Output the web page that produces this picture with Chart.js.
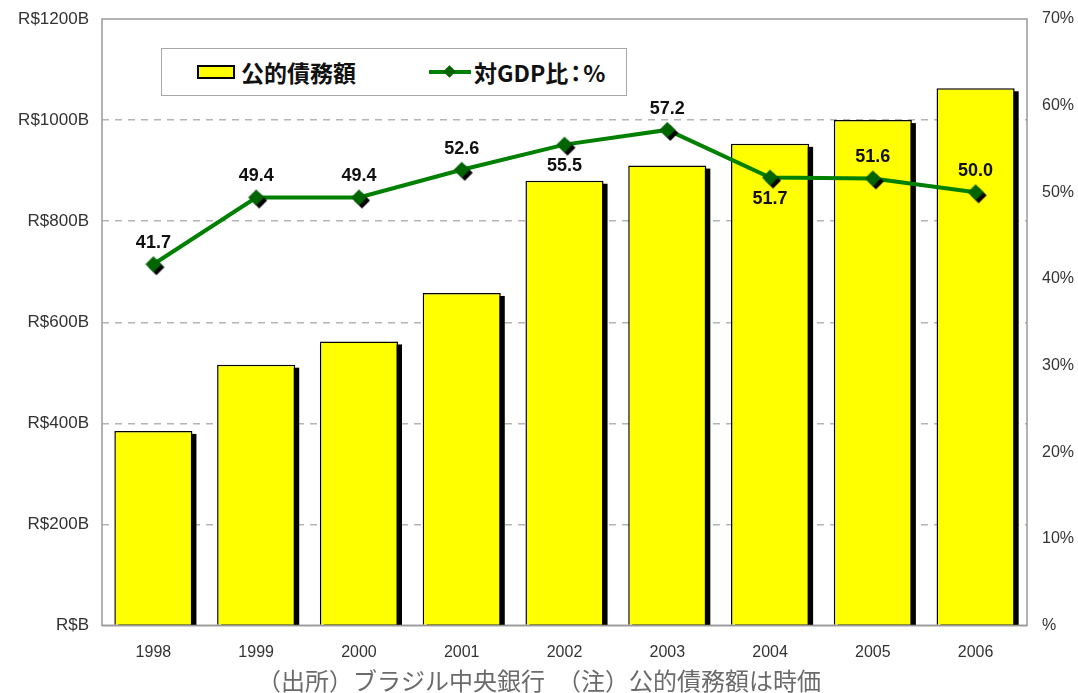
<!DOCTYPE html>
<html>
<head>
<meta charset="utf-8">
<script src="https://cdn.jsdelivr.net/npm/chart.js@4.4.1/dist/chart.umd.min.js"></script>
<style>
  html, body { margin: 0; padding: 0; background: #fff; }
  #wrap { position: relative; width: 1078px; height: 693px; }
  #legend {
    position: absolute; left: 161px; top: 48px; width: 466px; height: 48px;
    border: 1px solid #a8a8a8; background: #fff; box-sizing: border-box;
    font-family: "Noto Sans CJK JP", sans-serif; font-weight: bold; font-size: 23px; color: #111;
  }
  .li { position: absolute; top: 0; height: 100%; display: flex; align-items: center; }
  .sw-bar { width: 38px; height: 14px; background: #ffff00; border: 2px solid #000; box-sizing: border-box; margin-right: 6px; }
  .sw-line { position: relative; width: 42px; height: 14px; margin-right: 3px; }
  .sw-line .ln { position: absolute; left: 0; right: 0; top: 5px; height: 4px; background: #008000; }
  .sw-line .dm { position: absolute; left: 16px; top: 2px; width: 9px; height: 9px; background: #006400; transform: rotate(45deg); }
  .nc { margin: 0 -4px; }
</style>
</head>
<body>
<div id="wrap">
  <canvas id="c" width="1078" height="693"></canvas>
  <div id="legend">
    <div class="li" style="left:35px"><div class="sw-bar"></div><span>公的債務額</span></div>
    <div class="li" style="left:267px"><div class="sw-line"><div class="ln"></div><div class="dm"></div></div><span>対GDP比<span class="nc">：</span>%</span></div>
  </div>
</div>
<script>
const years = ["1998", "1999", "2000", "2001", "2002", "2003", "2004", "2005", "2006"];
const debtBillions = [385, 516, 562, 658, 880, 910, 953, 1000, 1063];
const gdpRatio = [41.7, 49.4, 49.4, 52.6, 55.5, 57.2, 51.7, 51.6, 50.0];
const labelBelow = [false, false, false, false, true, false, true, false, false];
const footerText = "（出所）ブラジル中央銀行　（注）公的債務額は時価";

// diamond marker with drop shadow
function diamondImage() {
  const s = 28, c = document.createElement('canvas');
  c.width = s; c.height = s;
  const g = c.getContext('2d');
  const r = 8, cx = s / 2, cy = s / 2;
  function dia(x, y, col) {
    g.beginPath(); g.moveTo(x, y - r); g.lineTo(x + r, y); g.lineTo(x, y + r); g.lineTo(x - r, y); g.closePath();
    g.fillStyle = col; g.fill();
  }
  dia(cx + 3, cy + 3, '#000');
  dia(cx, cy, '#006400');
  return c;
}

// drop shadows behind bars, positioned from the bar elements
const barShadow = {
  id: 'barShadow',
  beforeDatasetDraw(chart, args) {
    if (args.index !== 0) return;
    const { ctx, chartArea: a } = chart;
    ctx.save();
    ctx.beginPath();
    ctx.rect(a.left, a.top, a.right - a.left, a.bottom - a.top);
    ctx.clip();
    ctx.fillStyle = '#000';
    args.meta.data.forEach(bar => {
      const p = bar.getProps(['x', 'y', 'base', 'width'], true);
      ctx.fillRect(p.x - p.width / 2 + 4, p.y + 3, p.width, p.base - p.y);
    });
    ctx.restore();
  }
};

const frameAndLabels = {
  id: 'frameAndLabels',
  beforeDatasetsDraw(chart) {
    const { ctx, chartArea: a } = chart;
    ctx.save();
    ctx.strokeStyle = '#999';
    ctx.lineWidth = 1.5;
    ctx.strokeRect(a.left, a.top, a.right - a.left, a.bottom - a.top);
    ctx.restore();
  },
  afterDatasetsDraw(chart) {
    const { ctx, chartArea: a } = chart;
    ctx.save();
    ctx.strokeStyle = '#999';
    ctx.lineWidth = 1.5;
    ctx.beginPath(); ctx.moveTo(a.left, a.bottom); ctx.lineTo(a.right, a.bottom); ctx.stroke();
    const meta = chart.getDatasetMeta(1);
    ctx.font = 'bold 18px "Liberation Sans", Arial, sans-serif';
    ctx.fillStyle = '#111';
    ctx.textAlign = 'center';
    ctx.textBaseline = 'middle';
    meta.data.forEach((pt, i) => {
      const dy = labelBelow[i] ? 21 : -21;
      ctx.fillText(gdpRatio[i].toFixed(1), pt.x, pt.y + dy);
    });
    ctx.restore();
  }
};

function noPad(s) { s.paddingTop = 0; s.paddingBottom = 0; s.paddingLeft = 0; s.paddingRight = 0; }

new Chart(document.getElementById('c'), {
  data: {
    labels: years,
    datasets: [
      {
        type: 'bar',
        label: '公的債務額',
        data: debtBillions,
        yAxisID: 'y',
        backgroundColor: '#ffff00',
        borderColor: '#000',
        borderWidth: 1.5,
        barPercentage: 0.76,
        categoryPercentage: 1.0,
        clip: 0,
        order: 2
      },
      {
        type: 'line',
        label: '対GDP比：%',
        data: gdpRatio,
        yAxisID: 'y2',
        borderColor: '#008000',
        borderWidth: 4,
        tension: 0,
        pointStyle: diamondImage(),
        pointRadius: 8,
        fill: false,
        order: 1
      }
    ]
  },
  options: {
    responsive: false,
    animation: false,
    events: [],
    layout: { padding: { top: 19, left: 0, right: 0, bottom: 0 } },
    plugins: {
      legend: { display: false },
      tooltip: { enabled: false },
      title: {
        display: true,
        position: 'bottom',
        text: footerText,
        color: '#6a6a6a',
        font: { family: '"Noto Sans CJK JP", sans-serif', size: 24, weight: 'normal', lineHeight: 1.0 },
        padding: { top: 8, bottom: 0 }
      }
    },
    scales: {
      x: {
        grid: { display: false, drawTicks: false },
        border: { display: false },
        ticks: { color: '#333', font: { family: '"Liberation Sans", Arial, sans-serif', size: 16 }, padding: 17 },
        afterFit(s) { s.height = 35.5; noPad(s); }
      },
      y: {
        position: 'left',
        min: 0, max: 1200,
        ticks: {
          stepSize: 200,
          color: '#333',
          padding: 13,
          font: { family: '"Liberation Sans", Arial, sans-serif', size: 17 },
          callback: v => v === 0 ? 'R$B' : 'R$' + v + 'B'
        },
        grid: {
          drawTicks: false,
          color: ctx => (ctx.tick && (ctx.tick.value === 0 || ctx.tick.value === 1200)) ? 'rgba(0,0,0,0)' : '#b4b4b4',
          lineWidth: 1.5
        },
        border: { display: false, dash: [7, 6] },
        afterFit(s) { s.width = 102; noPad(s); }
      },
      y2: {
        position: 'right',
        min: 0, max: 70,
        ticks: {
          stepSize: 10,
          color: '#333',
          padding: 15,
          font: { family: '"Liberation Sans", Arial, sans-serif', size: 16 },
          callback: v => v === 0 ? '%' : v + '%'
        },
        grid: { drawOnChartArea: false, drawTicks: false },
        border: { display: false },
        afterFit(s) { s.width = 51; noPad(s); }
      }
    }
  },
  plugins: [barShadow, frameAndLabels]
});
</script>
</body>
</html>
